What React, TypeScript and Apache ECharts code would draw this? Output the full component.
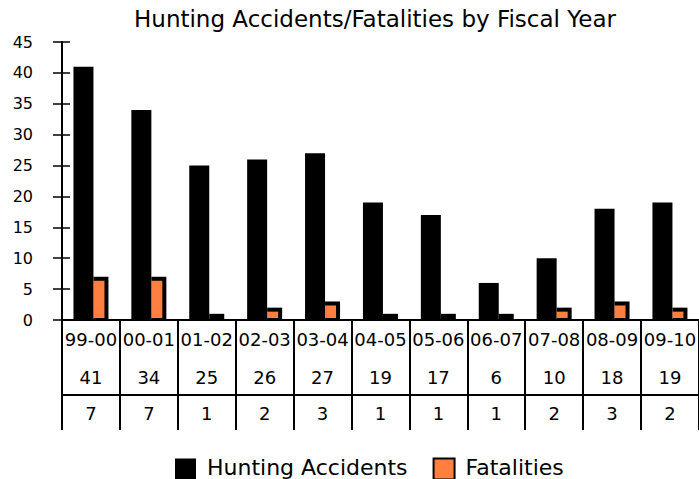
import React, { useEffect, useRef } from 'react';
import * as echarts from 'echarts';

const categories = ['99-00', '00-01', '01-02', '02-03', '03-04', '04-05', '05-06', '06-07', '07-08', '08-09', '09-10'];
const accidents = [41, 34, 25, 26, 27, 19, 17, 6, 10, 18, 19];
const fatalities = [7, 7, 1, 2, 3, 1, 1, 1, 2, 3, 2];
const yMin = 0;
const yMax = 45;
const yStep = 5;

const FONT = 'DejaVu Sans';
const ORANGE = '#FF7F40';
const BLACK_W = 20;
const FAT_W = 15;

export default function App() {
  const ref = useRef<HTMLDivElement>(null);
  useEffect(() => {
    const chart = echarts.init(ref.current as HTMLDivElement, null, { renderer: 'svg' });
    const option: any = {
      animation: false,
      textStyle: { fontFamily: FONT },
      title: {
        text: 'Hunting Accidents/Fatalities by Fiscal Year',
        left: 370,
        top: 2,
        textAlign: 'center',
        textStyle: { fontSize: 23, fontWeight: 'normal', color: '#000', fontFamily: FONT },
      },
      legend: {
        left: 170,
        top: 451,
        itemWidth: 21,
        itemHeight: 21,
        itemGap: 25,
        icon: 'rect',
        selectedMode: false,
        formatter: '{t|{name}}',
        textStyle: {
          fontSize: 22, color: '#000', fontFamily: FONT,
          rich: { t: { fontSize: 22, lineHeight: 22, color: '#000', fontFamily: FONT, padding: [0, 0, 4, 6] } },
        },
        data: [
          { name: 'Hunting Accidents', itemStyle: { color: '#000' } },
          { name: 'Fatalities', itemStyle: { color: ORANGE, borderColor: '#000', borderWidth: 2 } },
        ],
      },
      grid: { left: 62, top: 42, width: 639, height: 278, containLabel: false },
      xAxis: [
        {
          type: 'category',
          data: categories,
          position: 'bottom',
          axisLine: { lineStyle: { color: '#000', width: 2 } },
          axisTick: { show: true, length: 110, lineStyle: { color: '#000', width: 2 } },
          axisLabel: { margin: 10, fontSize: 18, color: '#000', interval: 0, fontFamily: FONT },
        },
        {
          type: 'category',
          data: categories,
          position: 'bottom',
          offset: 40,
          axisLine: { lineStyle: { color: '#000', width: 1 } },
          axisTick: { show: false },
          axisLabel: {
            margin: 8, fontSize: 18, color: '#000', interval: 0, fontFamily: FONT,
            formatter: (_v: string, i: number) => String(accidents[i]),
          },
        },
        {
          type: 'category',
          data: categories,
          position: 'bottom',
          offset: 75,
          axisLine: { lineStyle: { color: '#000', width: 2 } },
          axisTick: { show: false },
          axisLabel: {
            margin: 9, fontSize: 18, color: '#000', interval: 0, fontFamily: FONT,
            formatter: (_v: string, i: number) => String(fatalities[i]),
          },
        },
      ],
      yAxis: [
        {
          type: 'value',
          min: yMin,
          max: yMax,
          interval: yStep,
          position: 'left',
          axisLine: { show: true, lineStyle: { color: '#000', width: 2 } },
          axisTick: { show: true, length: 9, lineStyle: { color: '#000', width: 1.5 } },
          splitLine: { show: false },
          axisLabel: { margin: 29, fontSize: 16, color: '#000', fontFamily: FONT },
        },
        {
          type: 'value',
          min: yMin,
          max: yMax,
          interval: yStep,
          position: 'left',
          axisLine: { show: false },
          axisTick: { show: true, inside: true, length: 8, lineStyle: { color: '#000', width: 1.5 } },
          splitLine: { show: false },
          axisLabel: { show: false },
        },
      ],
      series: [
        {
          name: 'Hunting Accidents',
          type: 'bar',
          data: accidents,
          barWidth: BLACK_W,
          barGap: '0%',
          itemStyle: { color: '#000' },
        },
        {
          name: 'Fatalities',
          type: 'bar',
          data: fatalities,
          barWidth: FAT_W,
          barGap: '0%',
          itemStyle: { color: '#000' },
        },
        {
          name: 'Fatalities fill',
          type: 'custom',
          silent: true,
          z: 3,
          data: fatalities.map((v, i) => [i, v]),
          encode: { x: 0, y: 1 },
          renderItem: (_params: any, api: any) => {
            const idx = api.value(0);
            const val = api.value(1);
            const top = api.coord([idx, val]);
            const base = api.coord([idx, 0]);
            const x = top[0] - (BLACK_W + FAT_W) / 2 + BLACK_W;
            const y = top[1] + 4;
            const h = base[1] - 2 - y;
            if (h < 1) return { type: 'group', children: [] };
            return {
              type: 'rect',
              shape: { x, y, width: FAT_W - 4, height: h },
              style: { fill: ORANGE },
            };
          },
        },
      ],
    };
    chart.setOption(option);
    return () => chart.dispose();
  }, []);
  return (
    <div
      ref={ref}
      style={{ position: 'fixed', left: 0, top: 0, width: 699, height: 479, background: '#fff' }}
    />
  );
}
